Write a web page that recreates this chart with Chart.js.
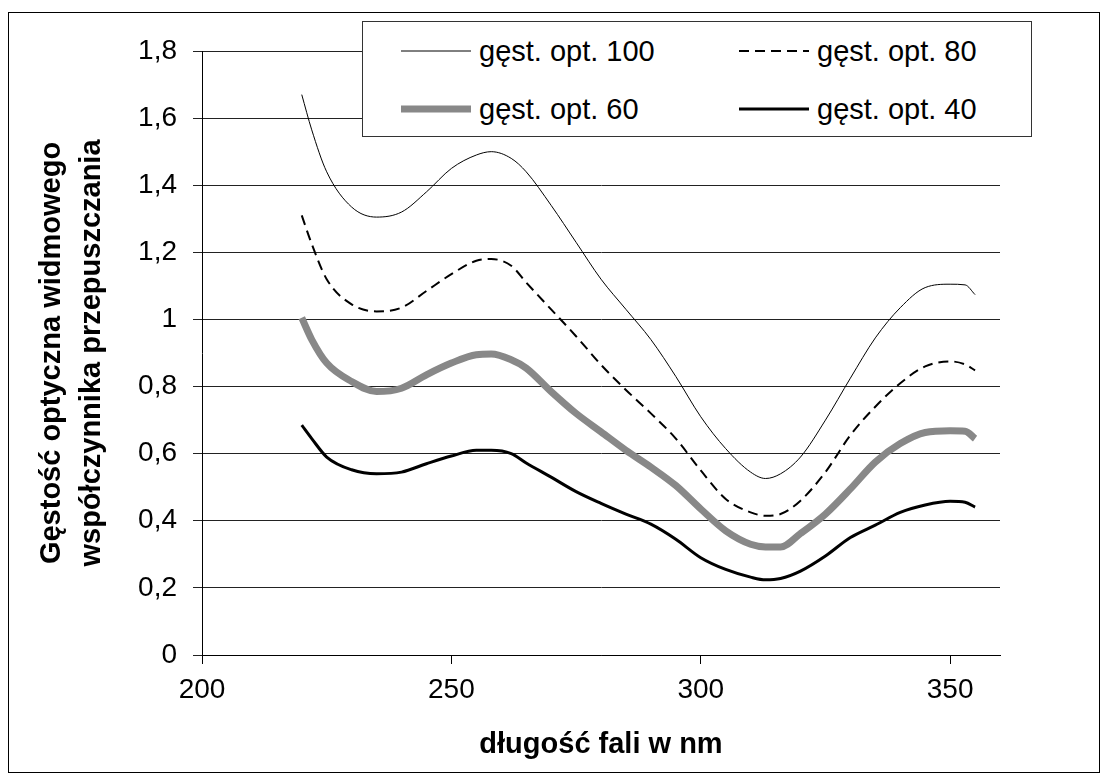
<!DOCTYPE html>
<html lang="pl">
<head>
<meta charset="utf-8">
<title>Gęstość optyczna widmowego współczynnika przepuszczania</title>
<script src="https://cdn.jsdelivr.net/npm/chart.js@4.4.1/dist/chart.umd.min.js"></script>
<style>
  body { margin: 0; background: #fff; }
  #frame {
    position: absolute; left: 8px; top: 12px;
    width: 1092px; height: 761px;
    box-sizing: border-box; border: 1px solid #000;
  }
  #frame canvas { display: block; }
  #legend {
    position: absolute; left: 362px; top: 21px;
    width: 670px; height: 116px;
    box-sizing: border-box; border: 1px solid #333; background: #fff;
    font-family: 'Liberation Sans', Arial, sans-serif; font-size: 29px; color: #000;
  }
  .item { position: absolute; display: flex; align-items: center; height: 34px; }
  .item svg { width: 70px; height: 10px; margin-right: 8px; }
</style>
</head>
<body>
<div id="frame"><canvas id="myChart" width="1090" height="759"></canvas></div>
<div id="legend"></div>
<script>
// wavelength, nm
const wavelengths = [220, 222, 225, 230, 235, 240, 245, 250, 255, 258, 262, 265, 270, 275, 280, 285,
  290, 295, 300, 305, 310, 313, 316, 320, 325, 330, 335, 340, 345, 350, 353, 355];

const optDensity100 = [1.67, 1.565, 1.44, 1.335, 1.305, 1.32, 1.38, 1.45, 1.49, 1.50, 1.48, 1.44, 1.34, 1.23, 1.12, 1.03,
  0.94, 0.83, 0.71, 0.615, 0.545, 0.526, 0.54, 0.59, 0.70, 0.825, 0.945, 1.035, 1.095, 1.105, 1.103, 1.074];
const optDensity80 = [1.31, 1.225, 1.12, 1.045, 1.024, 1.035, 1.085, 1.135, 1.175, 1.18, 1.16, 1.11, 1.03, 0.95, 0.865, 0.79,
  0.72, 0.645, 0.55, 0.465, 0.425, 0.415, 0.42, 0.46, 0.545, 0.655, 0.74, 0.81, 0.86, 0.875, 0.866, 0.848];
const optDensity60 = [1.005, 0.94, 0.87, 0.815, 0.785, 0.795, 0.835, 0.87, 0.895, 0.897, 0.88, 0.855, 0.785, 0.72, 0.665, 0.61,
  0.56, 0.505, 0.435, 0.37, 0.33, 0.322, 0.322, 0.362, 0.42, 0.495, 0.575, 0.63, 0.663, 0.668, 0.667, 0.645];
const optDensity40 = [0.685, 0.645, 0.59, 0.552, 0.54, 0.545, 0.57, 0.593, 0.61, 0.61, 0.6, 0.572, 0.53, 0.487, 0.452, 0.42,
  0.39, 0.345, 0.29, 0.255, 0.232, 0.224, 0.228, 0.25, 0.295, 0.35, 0.387, 0.425, 0.447, 0.458, 0.455, 0.441];

const seriesLabels = ['gęst. opt. 100', 'gęst. opt. 80', 'gęst. opt. 60', 'gęst. opt. 40'];

const xTicks = [200, 250, 300, 350];
const yTicks = [0, 0.2, 0.4, 0.6, 0.8, 1, 1.2, 1.4, 1.6, 1.8];

const toPoints = values => values.map((v, i) => ({ x: wavelengths[i], y: v }));

Chart.defaults.font.family = "'Liberation Sans', Arial, sans-serif";
Chart.defaults.color = '#000';

const styles = [
  { borderColor: '#000', borderWidth: 1, borderDash: [] },
  { borderColor: '#000', borderWidth: 2, borderDash: [10, 6] },
  { borderColor: '#888', borderWidth: 7, borderDash: [] },
  { borderColor: '#000', borderWidth: 3, borderDash: [] }
];
const seriesValues = [optDensity100, optDensity80, optDensity60, optDensity40];

const ctx = document.getElementById('myChart').getContext('2d');

const chart = new Chart(ctx, {
  type: 'line',
  data: {
    datasets: seriesValues.map((vals, i) => ({
      label: seriesLabels[i],
      data: toPoints(vals),
      borderColor: styles[i].borderColor,
      borderWidth: styles[i].borderWidth,
      borderDash: styles[i].borderDash,
      backgroundColor: 'transparent',
      pointRadius: 0,
      cubicInterpolationMode: 'monotone',
      fill: false
    }))
  },
  options: {
    responsive: false,
    animation: false,
    events: [],
    layout: { padding: { top: 38, right: 99, left: 0, bottom: 0 } },
    plugins: {
      legend: { display: false },
      tooltip: { enabled: false }
    },
    scales: {
      x: {
        type: 'linear',
        min: 200,
        max: 360,
        afterBuildTicks: scale => { scale.ticks = xTicks.map(v => ({ value: v })); },
        afterFit: scale => { scale.height = 117; },
        grid: {
          drawOnChartArea: false,
          drawTicks: true,
          tickLength: 9,
          color: '#000'
        },
        border: { color: '#000', width: 1 },
        ticks: {
          font: { size: 28 },
          padding: 9,
          maxRotation: 0
        },
        title: {
          display: true,
          text: 'długość fali w nm',
          font: { size: 29, weight: 'bold' },
          padding: { top: 0, bottom: 10 }
        }
      },
      y: {
        min: 0,
        max: 1.8,
        afterBuildTicks: scale => { scale.ticks = yTicks.map(v => ({ value: v })); },
        afterFit: scale => { scale.width = 193; },
        grid: {
          color: '#222',
          lineWidth: 1,
          tickLength: 9
        },
        border: { color: '#000', width: 1 },
        ticks: {
          font: { size: 28 },
          padding: 16,
          callback: v => (Math.round(v * 10) / 10).toString().replace('.', ',')
        },
        title: {
          display: true,
          text: ['Gęstość optyczna widmowego', 'współczynnika przepuszczania'],
          font: { size: 29, weight: 'bold', lineHeight: 1.38 },
          padding: { top: 23, bottom: 0 }
        }
      }
    }
  }
});

// legend box drawn as html over the plot, two columns
const legend = document.getElementById('legend');
const colLeft = [38, 376];
const rowTop = [12, 70];
chart.data.datasets.forEach((ds, i) => {
  const item = document.createElement('div');
  item.className = 'item';
  item.style.left = colLeft[i % 2] + 'px';
  item.style.top = rowTop[Math.floor(i / 2)] + 'px';
  const dash = ds.borderDash.length ? ` stroke-dasharray="${ds.borderDash.join(' ')}"` : '';
  item.innerHTML =
    `<svg viewBox="0 0 70 10"><line x1="0" y1="5" x2="70" y2="5" stroke="${ds.borderColor}" ` +
    `stroke-width="${ds.borderWidth}"${dash}/></svg><span>${ds.label}</span>`;
  legend.appendChild(item);
});
</script>
</body>
</html>
